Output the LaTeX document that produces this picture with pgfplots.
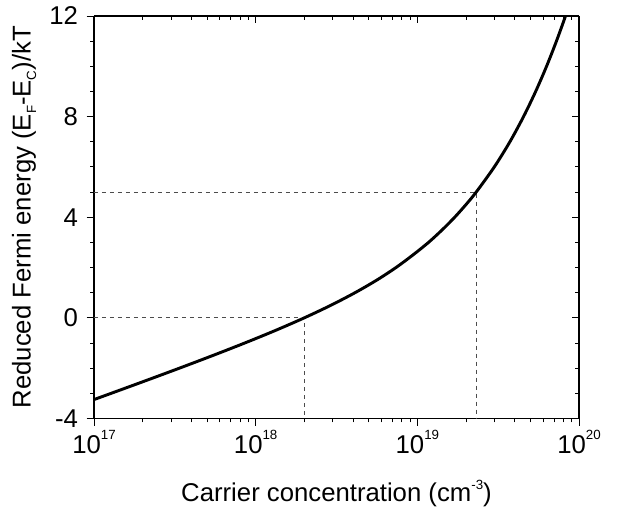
\documentclass[border=0pt]{standalone}
\usepackage{pgfplots}
\pgfplotsset{compat=1.18}
\usepackage{fontspec}
\setmainfont{Liberation Sans}
\newcommand{\tsup}[1]{\raisebox{10.5pt}{\fontsize{10}{12}\selectfont #1}}
\newcommand{\lsup}[1]{\raisebox{9pt}{\fontsize{10}{12}\selectfont #1}}
\newcommand{\lsub}[1]{\raisebox{-4pt}{\fontsize{10}{12}\selectfont #1}}
\begin{document}
\begin{tikzpicture}
\useasboundingbox (-70.5pt,-68.25pt) rectangle (392.5pt,314pt);
\begin{axis}[
  xmode=log,
  xmin=1e17, xmax=1e20, ymin=-4, ymax=12,
  width=364pt, height=302pt, scale only axis,
  xtick={1e17,1e18,1e19,1e20},
  minor xtick={2e17,3e17,4e17,5e17,6e17,7e17,8e17,9e17,2e18,3e18,4e18,5e18,6e18,7e18,8e18,9e18,2e19,3e19,4e19,5e19,6e19,7e19,8e19,9e19},
  ytick={-4,0,4,8,12},
  minor y tick num=3,
  major tick length=5.5pt, minor tick length=3pt,
  axis line style={line width=0.9pt},
  tick style={black, line width=0.7pt},
  axis x line*=bottom, axis y line*=left,
  tick align=outside,
  xticklabels={10\tsup{17},10\tsup{18},10\tsup{19},10\tsup{20}},
  yticklabels={-4,0,4,8,12},
  tick label style={font=\fontsize{19.3}{22}\selectfont},
  yticklabel style={xshift=-3pt},
  xlabel={Carrier concentration (cm\lsup{-3})},
  ylabel={Reduced Fermi energy (E\lsub{F}-E\lsub{C})/kT},
  label style={font=\fontsize{19.3}{22}\selectfont},
  xlabel style={at={(axis description cs:0.5,0)}, anchor=base, yshift=-62pt},
  ylabel style={at={(axis description cs:-0.144,0.5)}, anchor=center},
]
\addplot[color=black!70, line width=0.7pt, dash pattern=on 3pt off 3pt] coordinates {(1e17,0) (2e18,0) (2e18,-4)};
\addplot[color=black!70, line width=0.7pt, dash pattern=on 3pt off 3pt] coordinates {(1e17,5) (2.31e19,5) (2.31e19,-4)};
\addplot[black, line width=2.2pt, smooth] coordinates {
(1.0e17,-3.25)
(1.279e17,-3)
(2.086e17,-2.5)
(3.380e17,-2)
(5.421e17,-1.5)
(8.569e17,-1)
(1.327e18,-0.5)
(2.0e18,0)
(2.920e18,0.5)
(4.119e18,1)
(5.610e18,1.5)
(7.379e18,2)
(9.390e18,2.5)
(1.173e19,3)
(1.425e19,3.5)
(1.702e19,4)
(1.997e19,4.5)
(2.312e19,5)
(2.992e19,6)
(3.736e19,7)
(4.536e19,8)
(5.390e19,9)
(6.295e19,10)
(7.246e19,11)
(8.245e19,12)
(8.6e19,12.4)
};
\end{axis}
\begin{axis}[
  xmode=log,
  xmin=1e17, xmax=1e20, ymin=-4, ymax=12,
  width=364pt, height=302pt, scale only axis,
  xtick={1e17,1e18,1e19,1e20},
  minor xtick={2e17,3e17,4e17,5e17,6e17,7e17,8e17,9e17,2e18,3e18,4e18,5e18,6e18,7e18,8e18,9e18,2e19,3e19,4e19,5e19,6e19,7e19,8e19,9e19},
  ytick={-4,0,4,8,12},
  minor y tick num=3,
  major tick length=5.5pt, minor tick length=3pt,
  axis line style={line width=0.9pt},
  tick style={black, line width=0.7pt},
  axis x line*=top, axis y line*=right,
  tick align=inside,
  xticklabels={}, yticklabels={},
]
\addplot[draw=none] coordinates {(1e18,0)};
\end{axis}
\end{tikzpicture}
\end{document}
